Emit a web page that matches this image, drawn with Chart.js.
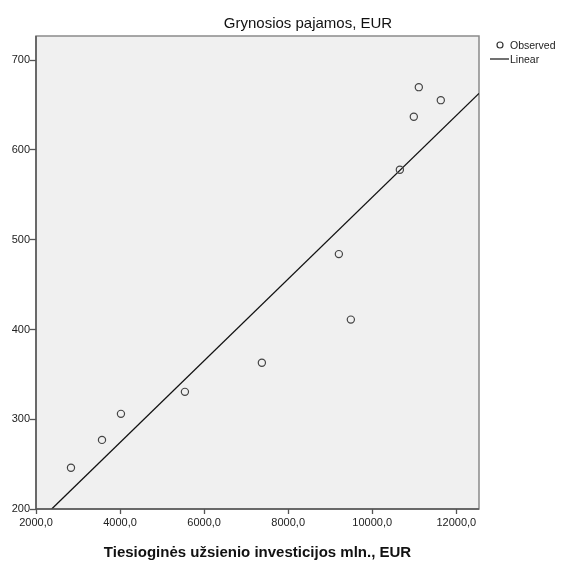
<!DOCTYPE html>
<html>
<head>
<meta charset="utf-8">
<script src="https://cdn.jsdelivr.net/npm/chart.js@4/dist/chart.umd.min.js"></script>
<style>
  html, body { margin: 0; padding: 0; background: #ffffff; }
  #wrap { width: 564px; height: 562px; }
</style>
</head>
<body>
<div id="wrap"><canvas id="c" width="564" height="562"></canvas></div>
<script>
// Observed values: direct foreign investment (mln. EUR) vs net income (EUR)
const investment = [2832, 3570, 4021, 5543, 7374, 9206, 9491, 10657, 10989, 11108, 11631];
const netIncome  = [246, 277, 306, 330.5, 363, 484, 411, 578, 637, 670, 655.5];

// Fitted linear trend, endpoints at the plot edges
const fitX = [2373, 12540];
const fitY = [200, 663];

// Axis ticks
const xTicks = [2000, 4000, 6000, 8000, 10000, 12000];
const yTicks = [200, 300, 400, 500, 600, 700];

const titleText = 'Grynosios pajamos, EUR';
const xTitleText = 'Tiesioginės užsienio investicijos mln., EUR';
const legendItems = ['Observed', 'Linear'];

const FONT = '"Liberation Sans", Arial, sans-serif';

const observedPts = investment.map((x, i) => ({ x, y: netIncome[i] }));
const fitPts = fitX.map((x, i) => ({ x, y: fitY[i] }));

// Grey plot panel with frame
const panelPlugin = {
  id: 'panel',
  beforeDraw(chart) {
    const { ctx, chartArea: a } = chart;
    ctx.save();
    ctx.fillStyle = '#f0f0f0';
    ctx.fillRect(a.left, a.top, a.right - a.left, a.bottom - a.top);
    ctx.strokeStyle = '#8a8a8a';
    ctx.lineWidth = 1.5;
    ctx.strokeRect(a.left, a.top, a.right - a.left, a.bottom - a.top);
    ctx.restore();
  },
  afterDatasetsDraw(chart) {
    const { ctx, chartArea: a } = chart;
    ctx.save();
    // darker axis lines
    ctx.strokeStyle = '#555555';
    ctx.lineWidth = 1.5;
    ctx.beginPath();
    ctx.moveTo(a.left, a.top);
    ctx.lineTo(a.left, a.bottom);
    ctx.lineTo(a.right, a.bottom);
    ctx.stroke();
    ctx.restore();
  }
};

// Title, x-axis title and legend
const textPlugin = {
  id: 'texts',
  afterDraw(chart) {
    const { ctx, chartArea: a } = chart;
    ctx.save();
    ctx.fillStyle = '#111111';
    ctx.textBaseline = 'alphabetic';
    ctx.textAlign = 'center';
    ctx.font = '15px ' + FONT;
    ctx.fillText(titleText, 308, 28);

    ctx.font = 'bold 15px ' + FONT;
    ctx.fillText(xTitleText, (a.left + a.right) / 2, 557);

    // legend
    ctx.textAlign = 'left';
    ctx.font = '10.5px ' + FONT;
    ctx.fillStyle = '#222222';
    ctx.strokeStyle = '#333333';
    ctx.lineWidth = 1.2;
    ctx.beginPath();
    ctx.arc(500, 45, 3, 0, Math.PI * 2);
    ctx.stroke();
    ctx.fillText(legendItems[0], 510, 49);
    ctx.strokeStyle = '#111111';
    ctx.lineWidth = 1.2;
    ctx.beginPath();
    ctx.moveTo(490, 59);
    ctx.lineTo(509, 59);
    ctx.stroke();
    ctx.fillText(legendItems[1], 510, 63);
    ctx.restore();
  }
};

new Chart(document.getElementById('c'), {
  type: 'scatter',
  data: {
    datasets: [
      {
        label: legendItems[0],
        data: observedPts,
        showLine: false,
        pointStyle: 'circle',
        pointRadius: 3.6,
        pointBorderWidth: 1.2,
        pointBorderColor: '#444444',
        pointBackgroundColor: 'rgba(0,0,0,0)',
        order: 1
      },
      {
        label: legendItems[1],
        data: fitPts,
        showLine: true,
        borderColor: '#111111',
        borderWidth: 1.3,
        pointRadius: 0,
        fill: false,
        order: 2
      }
    ]
  },
  options: {
    responsive: false,
    animation: false,
    devicePixelRatio: 1,
    layout: { padding: { top: 36, right: 85, bottom: 0, left: 0 } },
    plugins: {
      legend: { display: false },
      title: { display: false },
      tooltip: { enabled: false }
    },
    scales: {
      x: {
        type: 'linear',
        min: 2000,
        max: 12540,
        afterBuildTicks(scale) { scale.ticks = xTicks.map(v => ({ value: v })); },
        afterFit(scale) { scale.height = 53; },
        grid: { drawOnChartArea: false, tickLength: 5, color: '#555555', tickWidth: 1.3 },
        border: { display: false },
        ticks: {
          padding: 2,
          color: '#222222',
          font: { family: FONT, size: 11 },
          maxRotation: 0,
          callback: v => v.toFixed(1).replace('.', ',')
        }
      },
      y: {
        type: 'linear',
        min: 200,
        max: 727,
        afterBuildTicks(scale) { scale.ticks = yTicks.map(v => ({ value: v })); },
        afterFit(scale) { scale.width = 36; },
        grid: { drawOnChartArea: false, tickLength: 6, color: '#555555', tickWidth: 1.3 },
        border: { display: false },
        ticks: {
          padding: 0,
          color: '#222222',
          font: { family: FONT, size: 11 },
          callback: v => String(v)
        }
      }
    }
  },
  plugins: [panelPlugin, textPlugin]
});
</script>
</body>
</html>
